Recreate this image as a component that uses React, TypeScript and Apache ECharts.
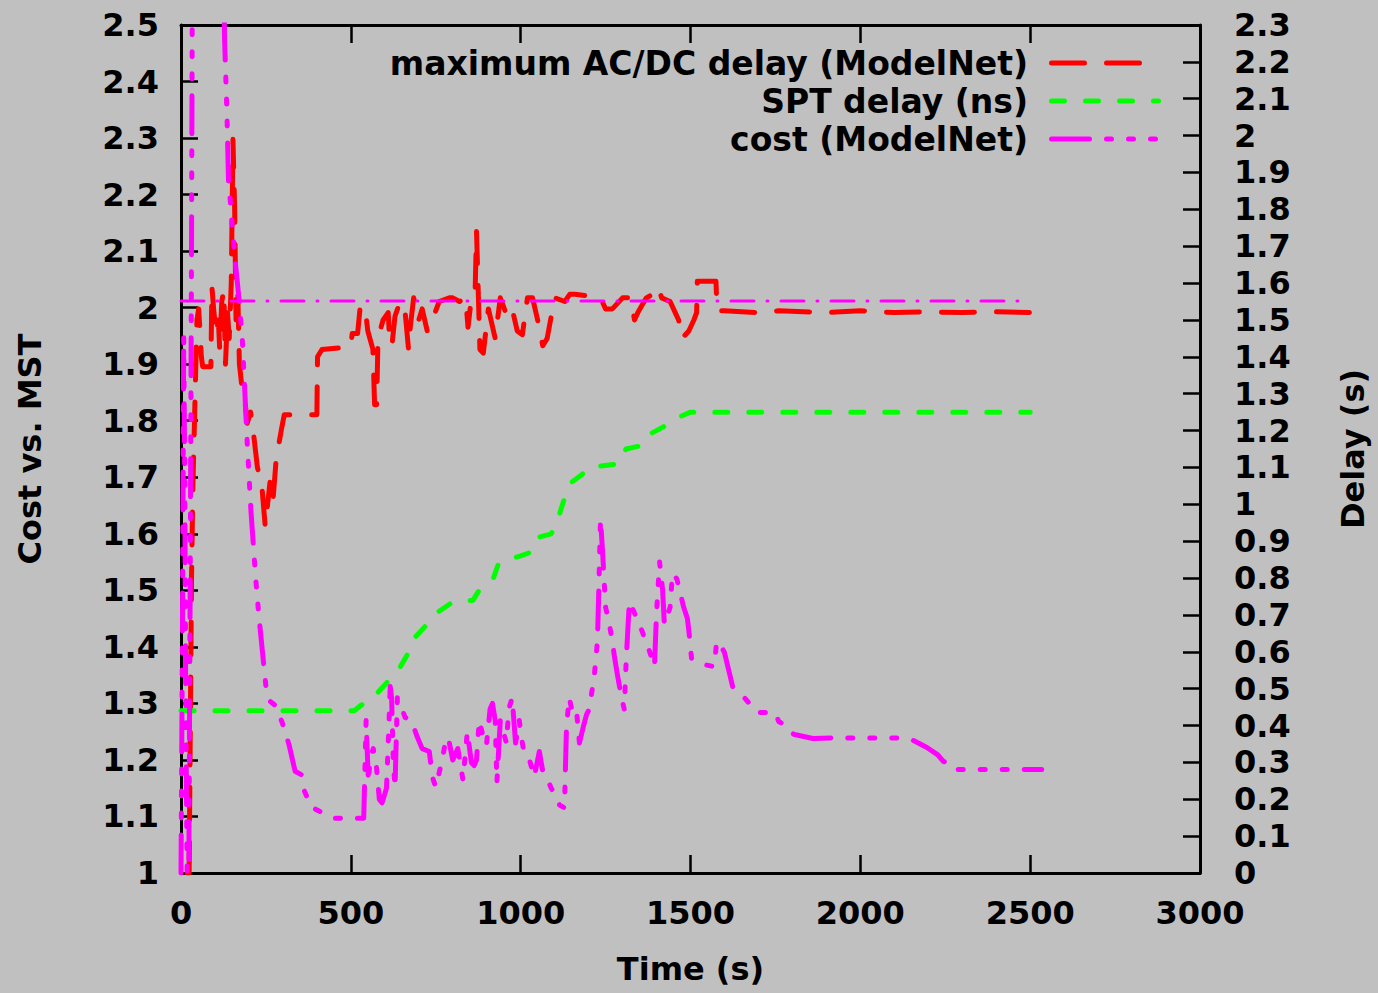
import React, { useEffect, useRef } from "react";
import * as echarts from "echarts";

// Axis ranges / tick settings
const xRange = { min: 0, max: 3000, interval: 500 };
const costRange = { min: 1, max: 2.5, interval: 0.1 };
const delayRange = { min: 0, max: 2.3, interval: 0.1 };

const legendLabels = [
  "maximum AC/DC delay (ModelNet)",
  "SPT delay (ns)",
  "cost (ModelNet)",
];

// [time (s), delay (s)]
const maxDelay: [number, number][] = [
  [18, 0], [24, 0], [27, 0.35], [31, 0.8], [35, 1.05], [39, 1.2], [43, 1.35], [47, 1.5],
  [52, 1.53], [56, 1.47], [60, 1.4], [64, 1.373], [88, 1.373], [91, 1.59], [97, 1.52],
  [104, 1.46], [110, 1.5], [114, 1.42], [120, 1.55], [126, 1.58], [131, 1.38], [137, 1.52],
  [142, 1.45], [148, 1.6], [153, 1.99], [158, 1.8], [162, 1.5], [167, 1.58], [172, 1.38],
  [178, 1.33], [186, 1.3], [195, 1.22], [205, 1.25], [215, 1.18], [225, 1.1], [238, 1.05],
  [248, 0.94], [255, 1.0], [262, 1.06], [270, 1.0], [280, 1.12], [295, 1.2], [304, 1.243],
  [400, 1.243], [402, 1.4], [415, 1.42], [500, 1.427], [504, 1.463], [520, 1.463],
  [528, 1.54], [545, 1.51], [550, 1.47], [565, 1.42], [570, 1.27], [576, 1.27], [580, 1.45],
  [595, 1.5], [610, 1.52], [615, 1.43], [622, 1.44], [630, 1.51], [645, 1.55], [660, 1.52],
  [670, 1.42], [675, 1.48], [685, 1.56], [700, 1.5], [710, 1.53], [725, 1.47], [740, 1.5],
  [760, 1.55], [790, 1.56], [800, 1.56], [820, 1.55], [838, 1.56], [845, 1.48], [855, 1.56],
  [866, 1.58], [870, 1.74], [875, 1.58], [880, 1.42], [890, 1.41], [895, 1.45], [905, 1.53],
  [925, 1.45], [940, 1.56], [960, 1.51], [975, 1.53], [990, 1.47], [1005, 1.46],
  [1020, 1.56], [1035, 1.56], [1050, 1.5], [1065, 1.43], [1078, 1.45], [1090, 1.51],
  [1100, 1.56], [1130, 1.55], [1145, 1.57], [1160, 1.57], [1200, 1.565], [1225, 1.56],
  [1235, 1.56], [1250, 1.53], [1270, 1.53], [1300, 1.56], [1325, 1.56], [1335, 1.5],
  [1345, 1.52], [1370, 1.56], [1390, 1.57], [1405, 1.59], [1415, 1.56], [1440, 1.55],
  [1455, 1.52], [1465, 1.5], [1475, 1.45], [1495, 1.47], [1510, 1.5], [1518, 1.52],
  [1520, 1.605], [1575, 1.605], [1578, 1.525], [1600, 1.525], [1700, 1.52], [1760, 1.525],
  [1900, 1.52], [2000, 1.525], [2100, 1.52], [2200, 1.522], [2300, 1.52], [2400, 1.522],
  [2500, 1.52],
];

// [time (s), delay (s)]
const sptDelay: [number, number][] = [
  [0, 0.44], [510, 0.44], [530, 0.455], [560, 0.47], [580, 0.49], [610, 0.52], [640, 0.55],
  [665, 0.59], [690, 0.64], [710, 0.66], [740, 0.69], [760, 0.71], [800, 0.735], [860, 0.74],
  [880, 0.77], [920, 0.8], [935, 0.84], [960, 0.85], [1000, 0.86], [1030, 0.87], [1050, 0.91],
  [1090, 0.92], [1110, 0.96], [1130, 1.02], [1150, 1.06], [1180, 1.08], [1200, 1.1],
  [1290, 1.11], [1310, 1.15], [1360, 1.16], [1380, 1.19], [1420, 1.21], [1450, 1.23],
  [1500, 1.25], [2500, 1.25],
];

// [time (s), cost vs. MST]
const costRatio: [number, number][] = [
  [0, 1.0], [4, 1.4], [8, 1.95], [11, 1.7], [14, 1.3], [18, 1.0], [23, 1.0], [27, 1.5],
  [31, 2.1], [34, 2.7], [125, 2.7], [128, 2.48], [135, 2.35], [140, 2.22], [145, 2.19],
  [150, 2.15], [160, 2.08], [170, 2.02], [180, 1.95], [188, 1.85], [195, 1.76], [206, 1.64],
  [220, 1.52], [230, 1.45], [240, 1.39], [250, 1.33], [260, 1.305], [280, 1.295],
  [298, 1.266], [318, 1.227], [336, 1.18], [354, 1.174], [362, 1.147], [383, 1.117],
  [427, 1.103], [451, 1.097], [538, 1.097], [545, 1.27], [548, 1.22], [552, 1.16],
  [556, 1.2], [566, 1.22], [575, 1.19], [584, 1.13], [592, 1.124], [605, 1.15], [612, 1.26],
  [616, 1.33], [620, 1.31], [625, 1.2], [630, 1.15], [637, 1.31], [645, 1.3], [660, 1.275],
  [678, 1.27], [696, 1.24], [710, 1.22], [731, 1.215], [740, 1.17], [750, 1.152],
  [769, 1.2], [781, 1.24], [790, 1.23], [800, 1.2], [815, 1.22], [830, 1.165], [843, 1.25],
  [855, 1.195], [863, 1.19], [870, 1.2], [878, 1.27], [890, 1.24], [899, 1.225], [910, 1.29],
  [917, 1.3], [925, 1.27], [930, 1.16], [940, 1.27], [958, 1.23], [965, 1.29], [975, 1.31],
  [985, 1.23], [996, 1.27], [1002, 1.24], [1011, 1.21], [1026, 1.2], [1040, 1.17],
  [1055, 1.215], [1065, 1.18], [1076, 1.17], [1090, 1.15], [1105, 1.133], [1115, 1.12],
  [1129, 1.115], [1132, 1.19], [1135, 1.26], [1143, 1.31], [1152, 1.285], [1164, 1.29],
  [1173, 1.23], [1185, 1.26], [1194, 1.28], [1202, 1.29], [1217, 1.35], [1226, 1.41],
  [1230, 1.5], [1235, 1.626], [1241, 1.57], [1250, 1.47], [1261, 1.44], [1270, 1.41],
  [1276, 1.383], [1285, 1.35], [1297, 1.31], [1305, 1.29], [1311, 1.38], [1320, 1.48],
  [1335, 1.46], [1350, 1.44], [1356, 1.43], [1375, 1.4], [1394, 1.365], [1400, 1.46],
  [1409, 1.55], [1418, 1.5], [1423, 1.44], [1440, 1.47], [1447, 1.53], [1460, 1.52],
  [1468, 1.5], [1480, 1.47], [1491, 1.45], [1497, 1.418], [1503, 1.38], [1530, 1.37],
  [1570, 1.365], [1577, 1.41], [1591, 1.4], [1600, 1.39], [1612, 1.36], [1624, 1.33],
  [1659, 1.31], [1695, 1.284], [1748, 1.284], [1760, 1.268], [1777, 1.262], [1790, 1.25],
  [1806, 1.245], [1860, 1.238], [1930, 1.239], [2107, 1.239], [2151, 1.236], [2196, 1.222],
  [2228, 1.209], [2245, 1.197], [2260, 1.195], [2278, 1.183], [2534, 1.183],
];

// horizontal reference level of cost
const costReference: [number, number][] = [
  [0, 2.012],
  [2500, 2.012],
];

const FONT = "DejaVu Sans";
const RED = "#ff0000";
const GREEN = "#00ff00";
const MAGENTA = "#ff00ff";
const DASH_RED = [33, 22];
const DASH_GREEN = [13, 21];
const DASH_COST = [38, 17, 5, 17, 5, 17, 5, 17];
const DASH_REF = [23, 13, 1, 13];

export default function App() {
  const ref = useRef<HTMLDivElement>(null);

  useEffect(() => {
    if (!ref.current) return;
    const chart = echarts.init(ref.current, undefined, { renderer: "svg" });

    const labelStyle = { color: "#000", fontFamily: FONT, fontWeight: "bold" as const, fontSize: 32 };
    const axisLine = { show: true, onZero: false, lineStyle: { color: "#000", width: 3 } };
    const axisTick = { show: true, inside: true, length: 18, lineStyle: { color: "#000", width: 2.5 } };

    const legendColors = [RED, GREEN, MAGENTA];
    const legendDashes = [DASH_RED, DASH_GREEN, DASH_COST];
    const legendY = [63, 101, 139];
    const graphic: any[] = [];
    legendLabels.forEach((label, i) => {
      graphic.push({
        type: "text",
        x: 1028,
        y: legendY[i],
        style: {
          text: label,
          fill: "#000",
          font: `bold 33px "${FONT}"`,
          textAlign: "right",
          textVerticalAlign: "middle",
        },
      });
      graphic.push({
        type: "line",
        shape: { x1: 1051.5, y1: legendY[i], x2: 1158.5, y2: legendY[i] },
        style: {
          stroke: legendColors[i],
          lineWidth: 5,
          lineDash: legendDashes[i],
          lineCap: "round",
        },
      });
    });

    chart.setOption({
      animation: false,
      backgroundColor: "#c0c0c0",
      textStyle: labelStyle,
      grid: { left: 181, right: 178, top: 25, bottom: 120, containLabel: false },
      xAxis: [
        {
          type: "value",
          position: "bottom",
          ...xRange,
          name: "Time (s)",
          nameLocation: "middle",
          nameGap: 80,
          nameTextStyle: labelStyle,
          axisLine,
          axisTick,
          axisLabel: { ...labelStyle, margin: 24, formatter: (v: number) => String(v) },
          splitLine: { show: false },
        },
        {
          type: "value",
          position: "top",
          ...xRange,
          axisLine,
          axisTick,
          axisLabel: { show: false },
          splitLine: { show: false },
        },
      ],
      yAxis: [
        {
          type: "value",
          position: "left",
          ...costRange,
          name: "Cost vs. MST",
          nameLocation: "middle",
          nameGap: 135,
          nameTextStyle: labelStyle,
          axisLine,
          axisTick: { ...axisTick, length: 17 },
          axisLabel: { ...labelStyle, margin: 22 },
          splitLine: { show: false },
        },
        {
          type: "value",
          position: "right",
          ...delayRange,
          name: "Delay (s)",
          nameLocation: "middle",
          nameGap: 137,
          nameTextStyle: labelStyle,
          axisLine,
          axisTick: { ...axisTick, length: 17 },
          axisLabel: { ...labelStyle, margin: 34 },
          splitLine: { show: false },
        },
      ],
      graphic,
      series: [
        {
          name: legendLabels[0],
          type: "line",
          xAxisIndex: 0,
          yAxisIndex: 1,
          data: maxDelay,
          symbol: "none",
          silent: true,
          lineStyle: { color: RED, width: 5, type: DASH_RED, cap: "round", join: "round" },
        },
        {
          name: legendLabels[1],
          type: "line",
          xAxisIndex: 0,
          yAxisIndex: 1,
          data: sptDelay,
          symbol: "none",
          silent: true,
          lineStyle: { color: GREEN, width: 5, type: DASH_GREEN, cap: "round", join: "round" },
        },
        {
          name: legendLabels[2],
          type: "line",
          xAxisIndex: 0,
          yAxisIndex: 0,
          data: costRatio,
          symbol: "none",
          silent: true,
          lineStyle: { color: MAGENTA, width: 5, type: DASH_COST, cap: "round", join: "round" },
        },
        {
          name: "cost reference",
          type: "line",
          xAxisIndex: 0,
          yAxisIndex: 0,
          data: costReference,
          symbol: "none",
          silent: true,
          lineStyle: { color: MAGENTA, width: 3, type: DASH_REF, cap: "round" },
        },
      ],
    });

    return () => chart.dispose();
  }, []);

  return (
    <div
      ref={ref}
      style={{ position: "absolute", left: 0, top: 0, width: 1378, height: 993 }}
    />
  );
}
